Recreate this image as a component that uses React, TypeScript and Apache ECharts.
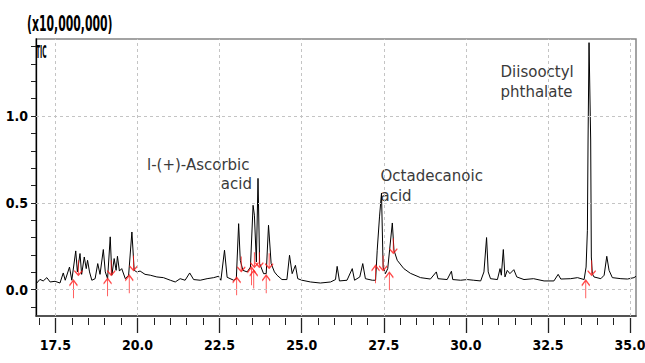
import React, { useEffect, useRef } from "react";
import * as echarts from "echarts";

// Retention time (min) and TIC intensity (x10,000,000)
const retentionTime = [
  16.92, 17.03, 17.13, 17.24, 17.34, 17.49, 17.64, 17.74, 17.8, 17.93,
  18.0, 18.12, 18.17, 18.25, 18.3, 18.38, 18.44, 18.48, 18.54, 18.61,
  18.71, 18.79, 18.86, 18.96, 19.02, 19.09, 19.17, 19.22, 19.29, 19.35,
  19.39, 19.45, 19.52, 19.63, 19.73, 19.83, 19.9, 19.98, 20.08, 20.23,
  20.39, 20.59, 20.79, 21.0, 21.15, 21.3, 21.45, 21.59, 21.71, 21.91,
  22.12, 22.32, 22.47, 22.54, 22.65, 22.73, 22.93, 23.01, 23.08, 23.13,
  23.21, 23.34, 23.44, 23.52, 23.56, 23.62, 23.67, 23.72, 23.84, 23.92,
  23.99, 24.07, 24.17, 24.25, 24.4, 24.55, 24.63, 24.71, 24.81, 24.88,
  25.01, 25.27, 25.57, 25.88, 26.03, 26.08, 26.15, 26.38, 26.54, 26.61,
  26.77, 26.86, 26.94, 27.15, 27.25, 27.3, 27.37, 27.43, 27.48, 27.55,
  27.62, 27.76, 27.81, 27.91, 28.11, 28.31, 28.62, 28.92, 29.1, 29.15,
  29.43, 29.56, 29.6, 29.84, 30.04, 30.24, 30.45, 30.55, 30.63, 30.68,
  30.75, 30.96, 31.04, 31.08, 31.14, 31.19, 31.26, 31.34, 31.46, 31.55,
  31.77, 32.06, 32.38, 32.68, 32.81, 32.89, 33.19, 33.4, 33.6, 33.66,
  33.7, 33.72, 33.75, 33.8, 33.82, 33.85, 33.9, 34.11, 34.21, 34.29,
  34.36, 34.46, 34.72, 34.92, 35.12, 35.18,
];
const intensity = [
  0.035, 0.059, 0.05, 0.069, 0.044, 0.048, 0.038, 0.096, 0.054, 0.13,
  0.054, 0.223, 0.102, 0.208, 0.088, 0.188, 0.121, 0.169, 0.102, 0.054,
  0.063, 0.15, 0.088, 0.231, 0.102, 0.063, 0.304, 0.083, 0.179, 0.111,
  0.192, 0.107, 0.121, 0.063, 0.083, 0.332, 0.111, 0.102, 0.107, 0.088,
  0.083, 0.073, 0.069, 0.054, 0.044, 0.063, 0.054, 0.096, 0.058, 0.054,
  0.063, 0.069, 0.077, 0.054, 0.227, 0.071, 0.054, 0.063, 0.38, 0.169,
  0.111, 0.102, 0.13, 0.486, 0.429, 0.159, 0.641, 0.15, 0.092, 0.092,
  0.371, 0.15, 0.102, 0.083, 0.058, 0.058, 0.198, 0.092, 0.14, 0.063,
  0.054, 0.044, 0.038, 0.044, 0.058, 0.134, 0.05, 0.054, 0.121, 0.054,
  0.073, 0.15, 0.063, 0.054, 0.054, 0.227, 0.419, 0.556, 0.13, 0.092,
  0.121, 0.384, 0.227, 0.169, 0.121, 0.094, 0.069, 0.061, 0.102, 0.063,
  0.058, 0.106, 0.058, 0.054, 0.058, 0.054, 0.05, 0.102, 0.3, 0.102,
  0.063, 0.058, 0.121, 0.083, 0.231, 0.073, 0.111, 0.092, 0.115, 0.073,
  0.058, 0.063, 0.05, 0.05, 0.088, 0.061, 0.063, 0.069, 0.058, 0.13,
  0.342, 0.862, 1.423, 0.862, 0.188, 0.092, 0.073, 0.063, 0.083, 0.192,
  0.111, 0.069, 0.063, 0.061, 0.069, 0.077,
];

// Integration markers: peak start (up arrows) and peak end (down arrows)
const peakStartTime = [18.05, 19.09, 19.75, 23.02, 23.47, 23.54, 23.92, 27.25, 27.67, 33.65];
const peakStartLevel = [0.054, 0.065, 0.083, 0.071, 0.129, 0.11, 0.083, 0.14, 0.1, 0.054];
const peakEndTime = [18.2, 19.2, 19.88, 23.16, 23.56, 23.71, 24.01, 27.48, 27.79, 33.83];
const peakEndLevel = [0.083, 0.083, 0.11, 0.105, 0.129, 0.129, 0.123, 0.11, 0.21, 0.083];

// Axis ticks
const xMajorTicks = [17.5, 20.0, 22.5, 25.0, 27.5, 30.0, 32.5, 35.0];
const xMinorTicks = [
  17.0, 17.5, 18.0, 18.5, 19.0, 19.5, 20.0, 20.5, 21.0, 21.5, 22.0, 22.5, 23.0,
  23.5, 24.0, 24.5, 25.0, 25.5, 26.0, 26.5, 27.0, 27.5, 28.0, 28.5, 29.0, 29.5,
  30.0, 30.5, 31.0, 31.5, 32.0, 32.5, 33.0, 33.5, 34.0, 34.5, 35.0,
];
const yMajorTicks = [0.0, 0.5, 1.0];
const yMinorTicks = [-0.1, 0.0, 0.1, 0.2, 0.3, 0.4, 0.5, 0.6, 0.7, 0.8, 0.9, 1.0, 1.1, 1.2, 1.3, 1.4];

const X_MIN = 16.91;
const X_MAX = 35.18;
const Y_MIN = -0.152;
const Y_MAX = 1.444;

const NARROW = "'DejaVu Sans Condensed', 'Liberation Sans Narrow', sans-serif";
const ANNOT = "'DejaVu Sans', Lato, sans-serif";

export default function App() {
  const ref = useRef<HTMLDivElement>(null);

  useEffect(() => {
    if (!ref.current) return;
    const chart = echarts.init(ref.current, null, { renderer: "svg" });

    const trace = retentionTime.map((t, i) => [t, intensity[i]]);
    const starts = peakStartTime.map((t, i) => [t, peakStartLevel[i]]);
    const ends = peakEndTime.map((t, i) => [t, peakEndLevel[i]]);

    const fmt = (v: number) => v.toFixed(1);

    const baseX = {
      type: "value" as const,
      min: X_MIN,
      max: X_MAX,
      position: "bottom" as const,
      splitLine: { show: false },
    };

    const annot = (text: string, x: number, y: number, align: string) => ({
      type: "text",
      x,
      y,
      style: { text, font: `15px ${ANNOT}`, fill: "#3a3a3a", verticalAlign: "middle", align },
    });

    chart.setOption({
      animation: false,
      backgroundColor: "#ffffff",
      grid: {
        left: 36,
        right: 9,
        top: 39,
        bottom: 47,
        containLabel: false,
        outerBoundsMode: "none",
        show: true,
        borderColor: "#858585",
        borderWidth: 1.5,
        backgroundColor: "transparent",
      },
      xAxis: [
        {
          ...baseX,
          axisLine: { show: true, onZero: false, lineStyle: { color: "#3a3a3a", width: 1.5 } },
          axisTick: { show: false },
          axisLabel: { show: false },
        },
        {
          ...baseX,
          offset: 2,
          axisLine: { show: false, onZero: false },
          axisTick: {
            show: true,
            length: 7,
            customValues: xMinorTicks,
            lineStyle: { color: "#222", width: 1 },
          },
          axisLabel: { show: false },
        },
        {
          ...baseX,
          offset: 2,
          axisLine: { show: false, onZero: false },
          axisTick: {
            show: true,
            length: 15,
            customValues: xMajorTicks,
            lineStyle: { color: "#222", width: 1.3 },
          },
          axisLabel: {
            show: true,
            customValues: xMajorTicks,
            formatter: fmt,
            margin: 20,
            fontFamily: NARROW,
            fontWeight: "bold",
            fontSize: 14,
            color: "#000",
          },
        },
      ],
      yAxis: [
        {
          type: "value",
          min: Y_MIN,
          max: Y_MAX,
          axisLine: { show: true, onZero: false, lineStyle: { color: "#000", width: 1.3 } },
          axisTick: {
            show: true,
            length: 5,
            customValues: yMinorTicks,
            lineStyle: { color: "#222", width: 1 },
          },
          axisLabel: {
            show: true,
            customValues: yMajorTicks,
            formatter: fmt,
            margin: 8,
            fontFamily: NARROW,
            fontWeight: "bold",
            fontSize: 14,
            color: "#000",
          },
          splitLine: { show: false },
        },
      ],
      graphic: [
        {
          type: "text",
          x: 27,
          y: 12,
          style: {
            text: "(x10,000,000)",
            font: `bold 17px ${NARROW}`,
            fill: "#000",
          },
          scaleX: 0.71,
          scaleY: 1.3,
        },
        {
          type: "text",
          x: 36,
          y: 42,
          style: { text: "TIC", font: `bold 12px ${NARROW}`, fill: "#000" },
          scaleX: 0.55,
          scaleY: 1.5,
        },
        annot("l-(+)-Ascorbic", 147, 164.5, "left"),
        annot("acid", 252, 184, "right"),
        annot("Octadecanoic", 380.5, 175.5, "left"),
        annot("acid", 380.5, 196, "left"),
        annot("Diisooctyl", 500.5, 72, "left"),
        annot("phthalate", 500.5, 91.5, "left"),
      ],
      series: [
        {
          name: "grid",
          type: "line",
          data: [[xMajorTicks[0], 0]],
          symbol: "none",
          lineStyle: { opacity: 0 },
          silent: true,
          z: 1,
          markLine: {
            silent: true,
            symbol: "none",
            label: { show: false },
            lineStyle: { type: [3, 3], color: "#c4c4c4", width: 1 },
            data: [
              ...xMajorTicks.map((v) => ({ xAxis: v })),
              ...yMajorTicks.map((v) => ({ yAxis: v })),
            ],
          },
        },
        {
          name: "TIC",
          type: "line",
          data: trace,
          symbol: "none",
          lineStyle: { color: "#000", width: 1 },
          silent: true,
          z: 3,
        },
        {
          name: "peak start",
          type: "scatter",
          data: starts,
          symbol: "path://M5 0 L5 20 M1 6 L5 0 L9 6",
          symbolSize: [8, 18],
          symbolOffset: [0, 9],
          itemStyle: { color: "rgba(0,0,0,0)", borderColor: "#ff1a1a", borderWidth: 1.3 },
          silent: true,
          z: 4,
        },
        {
          name: "peak end",
          type: "scatter",
          data: ends,
          symbol: "path://M5 20 L5 0 M1 14 L5 20 L9 14",
          symbolSize: [8, 15],
          symbolOffset: [0, -7.5],
          itemStyle: { color: "rgba(0,0,0,0)", borderColor: "#ff1a1a", borderWidth: 1.3 },
          silent: true,
          z: 4,
        },
      ],
    });

    return () => chart.dispose();
  }, []);

  return (
    <div
      ref={ref}
      style={{ position: "fixed", left: 0, top: 0, width: 645, height: 363, background: "#fff" }}
    />
  );
}
